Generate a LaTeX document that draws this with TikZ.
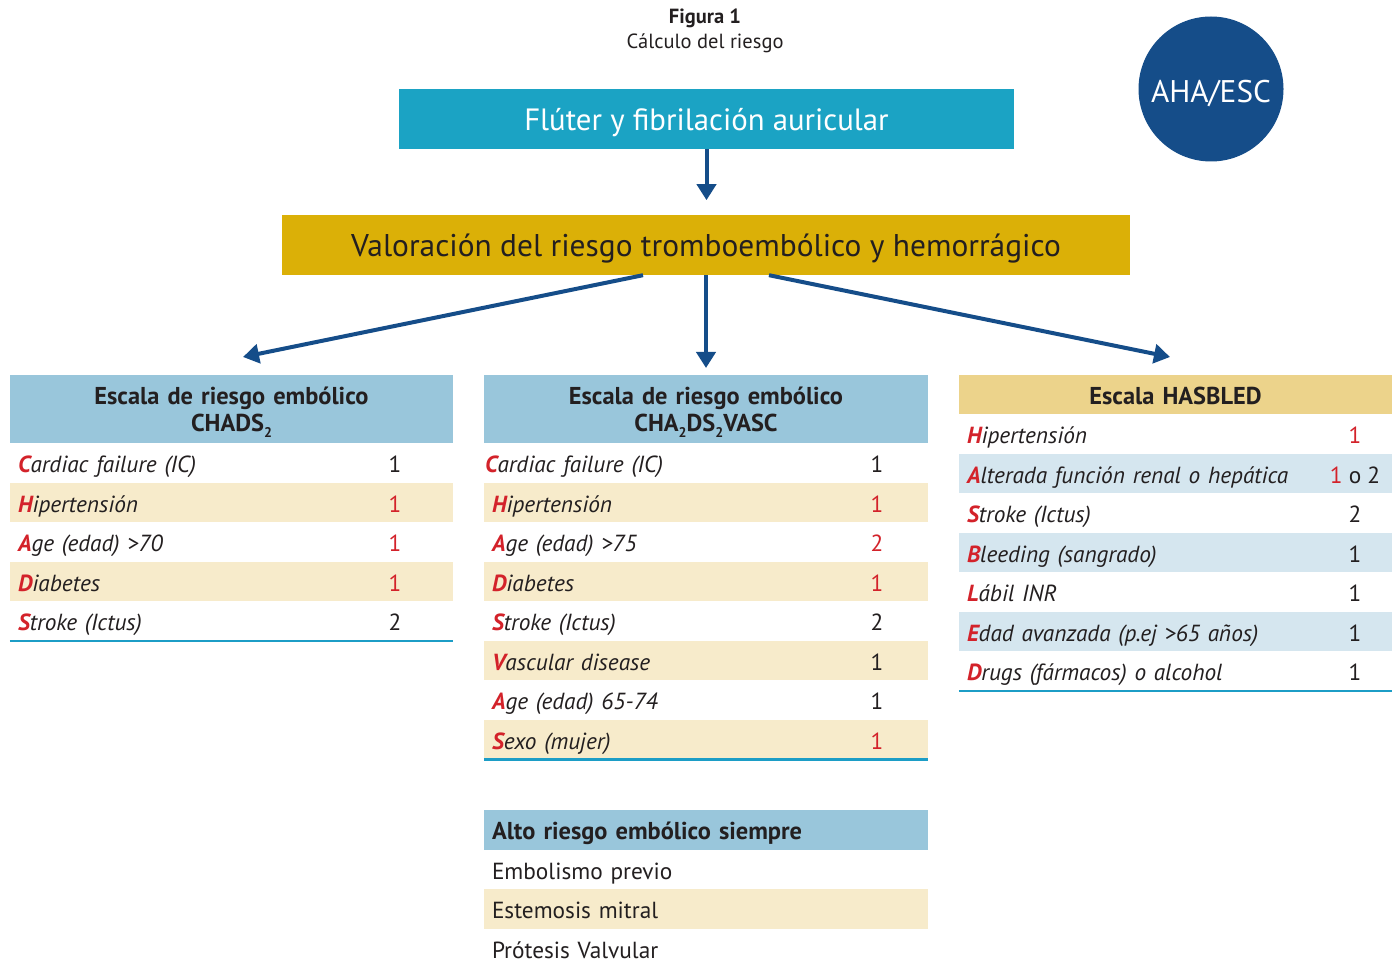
\documentclass[tikz,border=0pt]{standalone}
\usepackage{fontspec}
\setmainfont{PT Sans}
\usetikzlibrary{positioning, arrows.meta, calc}

\definecolor{cyanbox}{RGB}{27,163,196}
\definecolor{goldbox}{RGB}{219,176,7}
\definecolor{navy}{RGB}{21,77,137}
\definecolor{headblue}{RGB}{153,198,219}
\definecolor{headgold}{RGB}{236,211,139}
\definecolor{cream}{RGB}{247,235,203}
\definecolor{bandblue}{RGB}{213,230,239}
\definecolor{lineblue}{RGB}{28,157,198}
\definecolor{accent}{RGB}{211,34,42}
\definecolor{ink}{RGB}{35,31,32}

\newcommand{\fs}[2]{\fontsize{#1}{#2}\selectfont}
\newcommand{\firstlet}[2]{{\bfseries\color{accent}#1}#2}
\newcommand{\lowtwo}{\raisebox{-0.45ex}{\fs{14}{14}2}}

\begin{document}
\begin{tikzpicture}[
  x=1pt, y=-1pt,
  font=\fs{23.3}{28}, text=ink,
  title/.style={font=\fs{20.5}{24}},
  topbox/.style={fill=cyanbox, text=white, minimum width=615, minimum height=60, text height=28, text depth=4, font=\fs{30.8}{36}},
  valbox/.style={fill=goldbox, minimum width=848, minimum height=60, text height=28, text depth=4, font=\fs{31.4}{36}},
  badge/.style={circle, fill=navy, text=white, minimum size=145, inner sep=0, text height=28, text depth=0, font=\fs{31.3}{36}},
  head/.style={fill=headblue, align=center, inner xsep=8, inner ysep=0, text height=22, text depth=3, font=\bfseries\fs{24.4}{28}},
  twoline/.style={text height=22, text depth=32, minimum height=68},
  row/.style={minimum height=39.5, inner xsep=8, inner ysep=0, text height=22, text depth=3, align=left, font=\itshape\fs{23.3}{28}},
  plain/.style={minimum height=39.5, inner xsep=8, inner ysep=0, text height=22, text depth=3, align=left, font=\fs{23.3}{28}},
  pts/.style={inner sep=0, text height=22, text depth=3, font=\fs{23.3}{28}},
  arrow/.style={-{Triangle[width=19pt, length=16pt]}, line width=4pt, draw=navy},
  baseline/.style={line width=2.6pt, draw=lineblue}
]
\useasboundingbox (0,0) rectangle (1392,965);

% --- 1. Title and badge ---
\node[title] (fig) at (705,18) {\bfseries Figura 1};
\node[title] (sub) at (705,43) {Cálculo del riesgo};
\node[badge] (aha) at (1211,89) {AHA/ESC};

% --- 2. Top boxes ---
\node[topbox] (flut) at (706.5,119) {Flúter y fibrilación auricular};
\node[valbox] (val) at (706,245) {Valoración del riesgo tromboembólico y hemorrágico};

\coordinate (tipL) at (243,357);
\coordinate (tipM) at (706,368);
\coordinate (tipR) at (1170,357);

\draw[arrow] (flut.south) -- ++(0,51);
\draw[arrow] ($(val.south)+(-63,0)$) -- (tipL);
\draw[arrow] (val.south) -- (tipM);
\draw[arrow] ($(val.south)+(63,0)$) -- (tipR);

% --- 3. CHADS2 ---
\node[head, twoline, text width=427] (hchads) at (231.5,409) {Escala de riesgo embólico\\CHADS\lowtwo};
\node[row, text width=427, fill=white] (a1) at (231.5,463) {\firstlet{C}{ardiac failure (IC)}};
\node[row, text width=427, fill=cream] (a2) at (231.5,502.5) {\firstlet{H}{ipertensión}};
\node[row, text width=427, fill=white] (a3) at (231.5,542) {\firstlet{A}{ge (edad) >70}};
\node[row, text width=427, fill=cream] (a4) at (231.5,581.5) {\firstlet{D}{iabetes}};
\node[row, text width=427, fill=white] (a5) at (231.5,621) {\firstlet{S}{troke (Ictus)}};
\node[pts] (a1n) at (395,463) {1};
\node[pts, text=accent] (a2n) at (395,502.5) {1};
\node[pts, text=accent] (a3n) at (395,542) {1};
\node[pts, text=accent] (a4n) at (395,581.5) {1};
\node[pts] (a5n) at (395,621) {2};
\draw[baseline] (a5.south west) -- (a5.south east);

% --- 4. CHA2DS2VASC ---
\node[head, twoline, text width=428] (hvasc) at (706,409) {Escala de riesgo embólico\\CHA\lowtwo DS\lowtwo VASC};
\node[row, fill=white, inner xsep=1, text width=442] (b1) at (706,463) {\firstlet{C}{ardiac failure (IC)}};
\node[row, text width=428, fill=cream] (b2) at (706,502.5) {\firstlet{H}{ipertensión}};
\node[row, text width=428, fill=white] (b3) at (706,542) {\firstlet{A}{ge (edad) >75}};
\node[row, text width=428, fill=cream] (b4) at (706,581.5) {\firstlet{D}{iabetes}};
\node[row, text width=428, fill=white] (b5) at (706,621) {\firstlet{S}{troke (Ictus)}};
\node[row, text width=428, fill=cream] (b6) at (706,660.5) {\firstlet{V}{ascular disease}};
\node[row, text width=428, fill=white] (b7) at (706,700) {\firstlet{A}{ge (edad) 65-74}};
\node[row, text width=428, fill=cream] (b8) at (706,739.5) {\firstlet{S}{exo (mujer)}};
\node[pts] (b1n) at (877,463) {1};
\node[pts, text=accent] (b2n) at (877,502.5) {1};
\node[pts, text=accent] (b3n) at (877,542) {2};
\node[pts, text=accent] (b4n) at (877,581.5) {1};
\node[pts] (b5n) at (877,621) {2};
\node[pts] (b6n) at (877,660.5) {1};
\node[pts] (b7n) at (877,700) {1};
\node[pts, text=accent] (b8n) at (877,739.5) {1};
\draw[baseline] (b8.south west) -- (b8.south east);

% --- 5. HASBLED ---
\node[head, fill=headgold, text width=417, minimum height=39.5] (hbled) at (1175.5,394.5) {Escala HASBLED};
\node[row, text width=417, fill=white] (c1) at (1175.5,434) {\firstlet{H}{ipertensión}};
\node[row, text width=417, fill=bandblue] (c2) at (1175.5,473.5) {\firstlet{A}{lterada función renal o hepática}};
\node[row, text width=417, fill=white] (c3) at (1175.5,513) {\firstlet{S}{troke (Ictus)}};
\node[row, text width=417, fill=bandblue] (c4) at (1175.5,552.5) {\firstlet{B}{leeding (sangrado)}};
\node[row, text width=417, fill=white] (c5) at (1175.5,592) {\firstlet{L}{ábil INR}};
\node[row, text width=417, fill=bandblue] (c6) at (1175.5,631.5) {\firstlet{E}{dad avanzada (p.ej >65 años)}};
\node[row, text width=417, fill=white] (c7) at (1175.5,671) {\firstlet{D}{rugs (fármacos) o alcohol}};
\node[pts, text=accent] (c1n) at (1355,434) {1};
\node[pts] (c2n) at (1355,473.5) {{\color{accent}1} o 2};
\node[pts] (c3n) at (1355,513) {2};
\node[pts] (c4n) at (1355,552.5) {1};
\node[pts] (c5n) at (1355,592) {1};
\node[pts] (c6n) at (1355,631.5) {1};
\node[pts] (c7n) at (1355,671) {1};
\draw[baseline] (c7.south west) -- (c7.south east);

% --- 6. Always high risk ---
\node[head, align=left, text width=428, minimum height=40] (halto) at (706,830) {Alto riesgo embólico siempre};
\node[plain, text width=428, fill=white] (d1) at (706,869.5) {Embolismo previo};
\node[plain, text width=428, fill=cream] (d2) at (706,909) {Estemosis mitral};
\node[plain, text width=428, fill=white] (d3) at (706,948.5) {Prótesis Valvular};

\end{tikzpicture}
\end{document}
